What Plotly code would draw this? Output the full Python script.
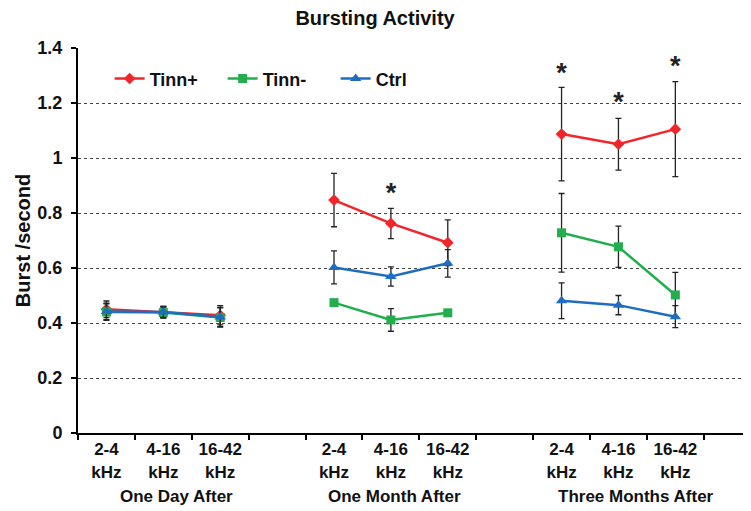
import plotly.graph_objects as go

# ---- data ----
groups = ["One Day After", "One Month After", "Three Months After"]
bands = ["2-4<br>kHz", "4-16<br>kHz", "16-42<br>kHz"]

tinn_pos = [0.450, 0.440, 0.428, 0.847, 0.762, 0.692, 1.087, 1.050, 1.105]
tinn_pos_err = [0.030, 0.020, 0.035, 0.097, 0.055, 0.083, 0.170, 0.094, 0.173]
tinn_neg = [0.440, 0.438, 0.420, 0.474, 0.411, 0.437, 0.728, 0.677, 0.502]
tinn_neg_err = [0.030, 0.020, 0.035, 0.010, 0.041, 0.010, 0.143, 0.075, 0.082]
ctrl = [0.442, 0.440, 0.422, 0.602, 0.569, 0.617, 0.481, 0.465, 0.423]
ctrl_err = [0.030, 0.020, 0.035, 0.060, 0.035, 0.050, 0.065, 0.035, 0.040]

# significance markers: (point index, height)
star_idx = [4, 6, 7, 8]
star_y = [0.865, 1.300, 1.195, 1.325]

group_label_x = [1.24, 5.07, 9.3]

slots_per_group = 4
xs = [g * slots_per_group + b for g in range(len(groups)) for b in range(len(bands))]


def with_gaps(vals):
    xo, yo = [], []
    for i, v in enumerate(vals):
        if i > 0 and i % len(bands) == 0:
            xo.append(None)
            yo.append(None)
        xo.append(xs[i])
        yo.append(v)
    return xo, yo


series = [
    ("Tinn+", tinn_pos, tinn_pos_err, "#F0262B", "diamond", 9),
    ("Tinn-", tinn_neg, tinn_neg_err, "#22AE4C", "square", 9),
    ("Ctrl", ctrl, ctrl_err, "#1F6DC0", "triangle-up", 10),
]

fig = go.Figure()
for name, vals, errs, color, sym, ms in series:
    xo, yo = with_gaps(vals)
    _, eo = with_gaps(errs)
    fig.add_trace(go.Scatter(
        x=xo, y=yo, name=name, mode="lines+markers",
        line=dict(color=color, width=2.5),
        marker=dict(symbol=sym, size=ms, color=color),
        error_y=dict(type="data", array=eo, visible=True, color="#222222",
                     thickness=1.3, width=3),
        connectgaps=False,
    ))

fig.add_trace(go.Scatter(
    x=[xs[i] for i in star_idx], y=star_y, mode="text", text=["*"] * len(star_idx),
    textfont=dict(size=27, color="#222222", family="Liberation Sans"),
    showlegend=False, hoverinfo="skip",
))

tickvals = xs
ticktext = [bands[i % len(bands)] for i in range(len(xs))]

# The page body has an 8px margin, so the figure is 8px smaller each way
fig.update_layout(
    width=743, height=503,
    margin=dict(l=70, r=0, t=40, b=78),
    paper_bgcolor="white", plot_bgcolor="white",
    font=dict(family="Liberation Sans", size=16, color="#111111", weight="bold"),
    title=dict(text="Bursting Activity", x=0.494, xref="container", xanchor="center",
               y=0.98, yanchor="middle", font=dict(size=20, weight="bold")),
    showlegend=True,
    legend=dict(orientation="h", x=0.047, y=0.92, xanchor="left", yanchor="middle",
                font=dict(size=18, weight="bold"), bgcolor="rgba(0,0,0,0)",
                entrywidth=68, entrywidthmode="pixels"),
    xaxis=dict(
        range=[-0.5, 11.33], tickmode="array", tickvals=tickvals, ticktext=ticktext,
        ticks="", showgrid=False, zeroline=False,
        showline=True, linecolor="black", linewidth=2,
        tickfont=dict(size=17, weight="bold"),
        minor=dict(tickmode="linear", tick0=-0.5, dtick=1, ticks="outside",
                   ticklen=5, tickwidth=2, tickcolor="black", showgrid=False),
    ),
    yaxis=dict(
        range=[0, 1.4], dtick=0.2, tick0=0, ticks="outside", ticklen=5, tickwidth=2,
        tickcolor="black", showline=True, linecolor="black", linewidth=2,
        showgrid=True, gridcolor="#444444", griddash="dot", gridwidth=1,
        zeroline=False, tickfont=dict(size=18, weight="bold"), ticklabelstandoff=5,
        title=dict(text="Burst /second", font=dict(size=20, weight="bold"), standoff=1),
    ),
)

for gx, g in zip(group_label_x, groups):
    fig.add_annotation(x=gx, y=-0.165, xref="x", yref="paper", text=g,
                       showarrow=False, yanchor="middle",
                       font=dict(size=17, weight="bold"))

fig.write_html("out.html")
